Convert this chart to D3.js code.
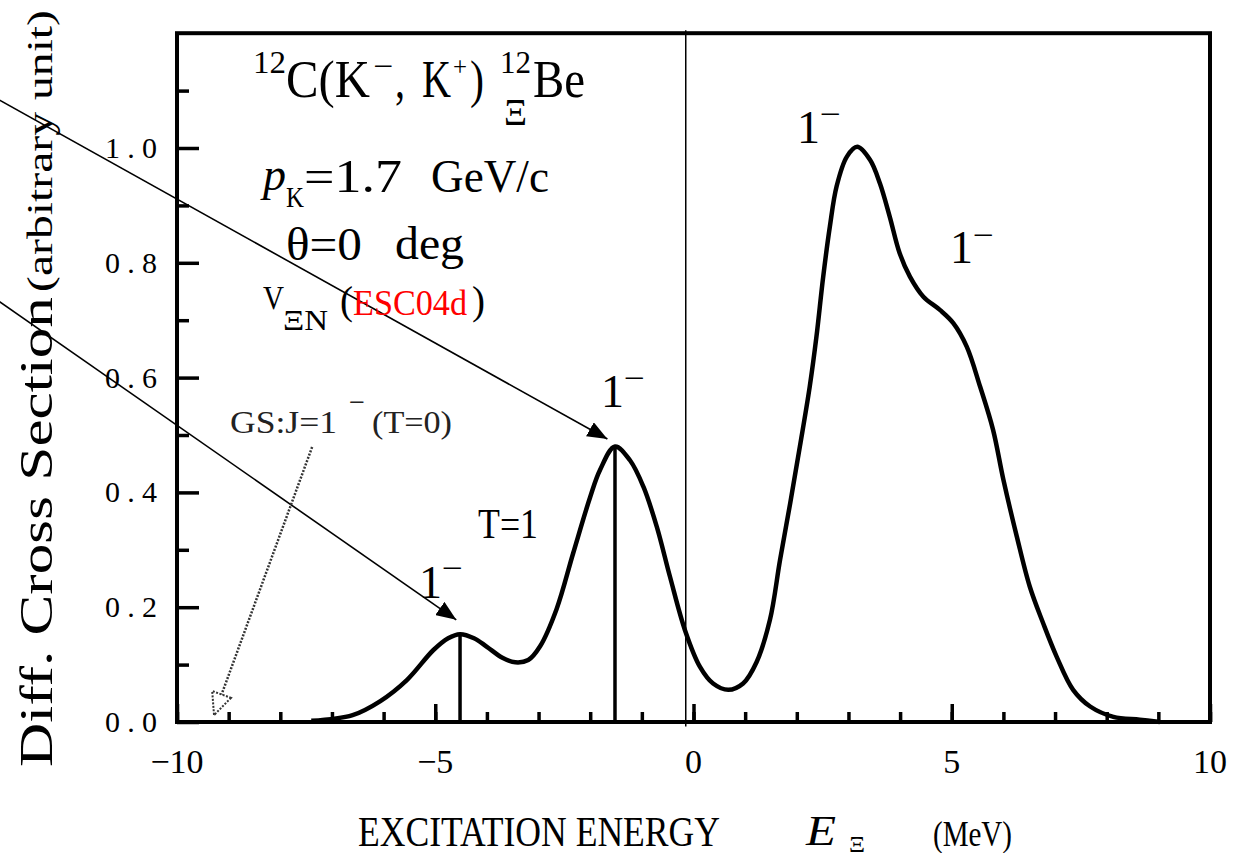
<!DOCTYPE html>
<html>
<head>
<meta charset="utf-8">
<script src="https://cdn.jsdelivr.net/npm/d3@7"></script>
<style>
  body { margin: 0; background: #fff; }
  svg { display: block; }
  svg text { font-family: "Liberation Serif", "DejaVu Serif", serif; }
</style>
</head>
<body>
<script>
// spectrum gelezen uit de figuur (MeV, willekeurige eenheid)
var energy = [-7.4, -6.6, -6.07, -5.55, -5.04, -4.75, -4.52, -4.25, -4.0, -3.7, -3.45, -3.2, -2.97,
              -2.65, -2.33, -2.0, -1.81, -1.52, -1.23, -0.97, -0.71, -0.455, -0.165, 0.126, 0.38,
              0.674, 0.96, 1.22, 1.48, 1.675, 1.87, 2.06, 2.25, 2.38, 2.51, 2.64, 2.77, 2.97, 3.17,
              3.42, 3.61, 3.80, 3.99, 4.19, 4.45, 4.77, 5.03, 5.29, 5.55, 5.80, 6.0, 6.26, 6.51,
              6.77, 7.03, 7.35, 7.68, 8.13, 8.64, 9.03];
var sigma  = [0.002, 0.012, 0.036, 0.073, 0.125, 0.146, 0.153, 0.146, 0.131, 0.112, 0.104, 0.108, 0.132,
              0.197, 0.294, 0.392, 0.439, 0.48, 0.456, 0.41, 0.34, 0.253, 0.16, 0.096, 0.067,
              0.056, 0.067, 0.104, 0.178, 0.282, 0.38, 0.48, 0.584, 0.671, 0.775, 0.863, 0.933, 0.985, 1.002,
              0.979, 0.938, 0.88, 0.817, 0.776, 0.741, 0.718, 0.695, 0.654, 0.584, 0.509, 0.422, 0.323, 0.236,
              0.172, 0.114, 0.056, 0.027, 0.009, 0.004, 0.0];

// staafjes onder de T=1 pieken
var stickEnergy = [-4.52, -1.52];
var stickHeight = [0.153, 0.48];

// as-waarden
var xMajor = [-10, -5, 0, 5, 10];
var yMajor = [0, 0.2, 0.4, 0.6, 0.8, 1.0];
var yMinor = [0.1, 0.3, 0.5, 0.7, 0.9, 1.1];

// pijlen (in data-eenheden)
var arrowFrom = [[-13.45, 1.084], [-13.45, 0.733]];
var arrowTo   = [[-1.667, 0.493], [-4.593, 0.178]];
var gsFrom = [-7.384, 0.479];
var gsTo   = [-9.283, 0.012];
var thresholdE = -0.15;

var breedte = 1240, hoogte = 853;
var svg = d3.select("body").append("svg")
    .attr("width", breedte)
    .attr("height", hoogte);

var x = d3.scaleLinear().domain([-10, 10]).range([177, 1210]);
var y = d3.scaleLinear().domain([0, 1.2]).range([722, 33.2]);

// markers voor de pijlpunten
var defs = svg.append("defs");
defs.append("marker")
    .attr("id", "kop")
    .attr("viewBox", "0 0 20 16")
    .attr("markerWidth", 20).attr("markerHeight", 16)
    .attr("refX", 20).attr("refY", 8)
    .attr("markerUnits", "userSpaceOnUse")
    .attr("orient", "auto")
  .append("path")
    .attr("d", "M0,0 L20,8 L0,16 Z")
    .attr("fill", "#000");
defs.append("marker")
    .attr("id", "openkop")
    .attr("viewBox", "-2 -2 26 26")
    .attr("markerWidth", 26).attr("markerHeight", 26)
    .attr("refX", 22).attr("refY", 11)
    .attr("markerUnits", "userSpaceOnUse")
    .attr("orient", "auto")
  .append("path")
    .attr("d", "M0,1 L22,11 L0,21 Z")
    .attr("fill", "#fff")
    .attr("stroke", "#333")
    .attr("stroke-width", 2)
    .attr("stroke-dasharray", "2,1.5");

// x-as: kleine streepjes
svg.append("g")
    .attr("transform", "translate(0," + y(0) + ")")
    .call(d3.axisBottom(x).ticks(20).tickSize(-10).tickFormat(""))
    .call(function(g) { g.select(".domain").remove(); })
    .selectAll("line").attr("stroke-width", 3.5);

// x-as: grote streepjes
svg.append("g")
    .attr("transform", "translate(0," + y(0) + ")")
    .call(d3.axisBottom(x).tickValues(xMajor).tickSize(-18).tickFormat(""))
    .call(function(g) { g.select(".domain").remove(); })
    .selectAll("line").attr("stroke-width", 3.5);

// getallen onder de x-as
var fmtX = d3.format("d");
svg.selectAll(".xlabel")
    .data(xMajor)
    .enter()
    .append("text")
    .attr("class", "xlabel")
    .attr("x", function(d) { return x(d); })
    .attr("y", y(0) + 51)
    .attr("font-size", 34)
    .attr("text-anchor", "middle")
    .text(function(d) { return fmtX(d); });

// y-as: kleine streepjes
svg.append("g")
    .attr("transform", "translate(" + x(-10) + ",0)")
    .call(d3.axisLeft(y).tickValues(yMinor).tickSize(-12).tickFormat(""))
    .call(function(g) { g.select(".domain").remove(); })
    .selectAll("line").attr("stroke-width", 3.5);

// y-as: grote streepjes
svg.append("g")
    .attr("transform", "translate(" + x(-10) + ",0)")
    .call(d3.axisLeft(y).tickValues(yMajor).tickSize(-22).tickFormat(""))
    .call(function(g) { g.select(".domain").remove(); })
    .selectAll("line").attr("stroke-width", 3.5);

// getallen naast de y-as
var fmtY = d3.format(".1f");
svg.selectAll(".ylabel")
    .data(yMajor)
    .enter()
    .append("text")
    .attr("class", "ylabel")
    .attr("x", x(-10) - 72)
    .attr("y", function(d) { return y(d) + 10; })
    .attr("font-size", 30)
    .attr("textLength", 52)
    .attr("lengthAdjust", "spacing")
    .text(function(d) { return fmtY(d); });

// kader
svg.append("rect")
    .attr("x", x(-10))
    .attr("y", y(1.2))
    .attr("width", x(10) - x(-10))
    .attr("height", y(0) - y(1.2))
    .attr("fill", "none")
    .attr("stroke", "#000")
    .attr("stroke-width", 4);

// dunne drempellijn
svg.append("line")
    .attr("x1", x(thresholdE)).attr("x2", x(thresholdE))
    .attr("y1", y(1.205)).attr("y2", y(-0.008))
    .attr("stroke", "#000")
    .attr("stroke-width", 1.5);

// staafjes
svg.selectAll(".stok")
    .data(stickEnergy)
    .enter()
    .append("line")
    .attr("class", "stok")
    .attr("x1", function(d) { return x(d); })
    .attr("x2", function(d) { return x(d); })
    .attr("y1", y(0))
    .attr("y2", function(d, i) { return y(stickHeight[i]); })
    .attr("stroke", "#000")
    .attr("stroke-width", 3.5);

// de spectrumcurve
var punten = energy.map(function(e, i) { return [e, sigma[i]]; });
var lijn = d3.line()
    .x(function(d) { return x(d[0]); })
    .y(function(d) { return y(d[1]); })
    .curve(d3.curveCatmullRom.alpha(0.5));
svg.append("path")
    .datum(punten)
    .attr("d", lijn)
    .attr("fill", "none")
    .attr("stroke", "#000")
    .attr("stroke-width", 4.5)
    .attr("stroke-linejoin", "round");

// pijlen naar de T=1 pieken
arrowFrom.forEach(function(p, i) {
  svg.append("line")
      .attr("x1", x(p[0])).attr("y1", y(p[1]))
      .attr("x2", x(arrowTo[i][0])).attr("y2", y(arrowTo[i][1]))
      .attr("stroke", "#000")
      .attr("stroke-width", 1.6)
      .attr("marker-end", "url(#kop)");
});

// gestippelde pijl naar de grondtoestand
svg.append("line")
    .attr("x1", x(gsFrom[0])).attr("y1", y(gsFrom[1]))
    .attr("x2", x(gsTo[0])).attr("y2", y(gsTo[1]))
    .attr("stroke", "#333")
    .attr("stroke-width", 2.5)
    .attr("stroke-dasharray", "2,1.5")
    .attr("marker-end", "url(#openkop)");

// hulpfunctie voor losse tekststukjes
function tekst(str, px, py, size, opts) {
  opts = opts || {};
  var t = svg.append("text")
      .attr("x", px)
      .attr("y", py)
      .attr("font-size", size)
      .attr("fill", opts.fill || "#000")
      .text(str);
  if (opts.tl) t.attr("textLength", opts.tl).attr("lengthAdjust", "spacingAndGlyphs");
  if (opts.italic) t.attr("font-style", "italic");
  return t;
}

// reactie
tekst("12", 253, 73, 32, {tl: 33});
tekst("C(K", 286, 97, 52, {tl: 84});
tekst("\u2212", 373, 77, 32, {tl: 20});
tekst(",", 395, 97, 52, {tl: 10});
tekst("K", 422, 97, 52, {tl: 29});
tekst("+", 453, 76, 28, {tl: 14});
tekst(")", 470, 97, 52, {tl: 14});
tekst("12", 500, 73, 32, {tl: 31});
tekst("\u039E", 504, 125, 38, {tl: 23});
tekst("Be", 533, 97, 52, {tl: 52});

// kinematica
tekst("p", 263, 190, 46, {tl: 23, italic: true});
tekst("K", 286, 207, 30, {tl: 18});
tekst("=1.7", 304, 192, 46, {tl: 98});
tekst("GeV/c", 431, 192, 46, {tl: 118});
tekst("\u03B8=0", 286, 260, 46, {tl: 76});
tekst("deg", 395, 259, 46, {tl: 69});

// potentiaal
tekst("V", 263, 309, 34, {tl: 21});
tekst("\u039EN", 283, 330, 30, {tl: 45});
tekst("(", 340, 314, 40, {tl: 13});
tekst("ESC04d", 353, 315, 36, {tl: 114, fill: "#ff0000"});
tekst(")", 472, 314, 40, {tl: 13});

// toestandslabels 1-
var labelPos = [[797, 143, 820, 124], [950, 263, 973, 245], [601, 407, 624, 388], [419, 598, 442, 578]];
labelPos.forEach(function(p) {
  tekst("1", p[0], p[1], 46);
  tekst("\u2212", p[2], p[3], 30, {tl: 21});
});
tekst("T=1", 478, 538, 42, {tl: 60});

// grondtoestand
tekst("GS:J=1", 230, 433, 32, {tl: 107, fill: "#222"});
tekst("\u2212", 349, 412, 30, {tl: 16, fill: "#222"});
tekst("(T=0)", 372, 433, 32, {tl: 80, fill: "#222"});

// x-as titel
tekst("EXCITATION ENERGY", 358, 846, 43, {tl: 362});
tekst("E", 806, 845, 42, {tl: 30, italic: true});
tekst("\u039E", 849, 852, 24, {tl: 16});
tekst("(MeV)", 933, 846, 36, {tl: 79});

// y-as titel
svg.append("text")
    .attr("transform", "translate(52,767) rotate(-90)")
    .attr("font-size", 46)
    .attr("textLength", 470)
    .attr("lengthAdjust", "spacingAndGlyphs")
    .text("Diff. Cross Section");
svg.append("text")
    .attr("transform", "translate(52,292) rotate(-90)")
    .attr("font-size", 36)
    .attr("textLength", 282)
    .attr("lengthAdjust", "spacingAndGlyphs")
    .text("(arbitrary unit)");
</script>
</body>
</html>
